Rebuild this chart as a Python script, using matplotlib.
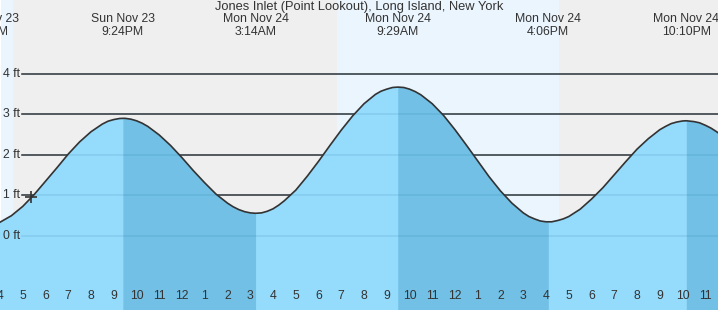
import numpy as np
import matplotlib
matplotlib.use('Agg')
import matplotlib.pyplot as plt
import matplotlib.transforms as mtransforms

plt.rcParams['font.family'] = ['Liberation Sans', 'DejaVu Sans']

# hours relative to midnight Mon Nov 24, heights in ft
hours = [-8.0, -7.5, -7.0, -6.5, -6.0, -5.5, -5.0, -4.5, -4.0, -3.5, -3.25, -3.0, -2.75, -2.6,
         -2.5, -2.25, -2.0, -1.75, -1.5, -1.0, -0.5, 0.0, 0.5, 1.0, 1.5, 2.0, 2.25, 2.5, 2.75,
         3.0, 3.233, 3.5, 3.75, 4.0, 4.25, 4.5, 5.0, 5.5, 6.0, 6.5, 7.0, 7.5, 8.0, 8.5, 8.75,
         9.0, 9.25, 9.483, 9.5, 9.75, 10.0, 10.25, 10.5, 11.0, 11.5, 12.0, 12.5, 13.0, 13.5,
         14.0, 14.5, 15.0, 15.25, 15.5, 15.75, 16.0, 16.1, 16.25, 16.5, 16.75, 17.0, 17.5,
         18.0, 18.5, 19.0, 19.5, 20.0, 20.5, 21.0, 21.25, 21.5, 21.75, 22.0, 22.167, 22.5,
         22.75, 23.0, 23.25, 23.5, 24.0]
heights = [0.34, 0.50, 0.73, 1.02, 1.35, 1.68, 2.02, 2.32, 2.57, 2.76, 2.83, 2.87, 2.896, 2.90,
           2.90, 2.88, 2.84, 2.78, 2.70, 2.49, 2.23, 1.93, 1.61, 1.31, 1.03, 0.81, 0.72, 0.65, 0.60,
           0.57, 0.56, 0.57, 0.61, 0.67, 0.76, 0.87, 1.13, 1.47, 1.84, 2.23, 2.61, 2.96, 3.26, 3.49, 3.57,
           3.62, 3.66, 3.67, 3.67, 3.66, 3.62, 3.56, 3.48, 3.26, 2.97, 2.62, 2.24, 1.85, 1.46,
           1.11, 0.81, 0.57, 0.48, 0.42, 0.37, 0.35, 0.35, 0.35, 0.38, 0.42, 0.48, 0.66,
           0.91, 1.19, 1.51, 1.83, 2.14, 2.40, 2.62, 2.70, 2.77, 2.81, 2.835, 2.84, 2.82,
           2.79, 2.73, 2.66, 2.57, 2.36]

# tide extremes (labels at the top)
event_times = [-8.55, -2.6, 3.233, 9.483, 16.1, 22.167]
event_days = ['Sun Nov 23', 'Sun Nov 23', 'Mon Nov 24', 'Mon Nov 24', 'Mon Nov 24', 'Mon Nov 24']
event_clock = ['3:27PM', '9:24PM', '3:14AM', '9:29AM', '4:06PM', '10:10PM']

# falling tide periods (darker fill)
falling = [(-2.6, 3.233), (9.483, 16.1), (22.167, 24.0)]

# daylight / night
sunset_1 = -7.42
sunrise = 6.8
sunset_2 = 16.55

now_time = -6.62
now_height = 0.97

ft_levels = [0, 1, 2, 3, 4]
tick_hours = list(range(-8, 24))

t = np.array(hours)
h = np.array(heights)

fig = plt.figure(figsize=(7.18, 3.10), dpi=100)
ax = fig.add_axes([0, 0, 1, 1])
x0, x1 = -7.959, 23.56
y0, y1 = -1.824, 5.817
ax.set_xlim(x0, x1)
ax.set_ylim(y0, y1)
for s in ax.spines.values():
    s.set_visible(False)

day_col = '#ebf5fe'
night_col = '#efefef'
ax.axvspan(x0, sunset_1, color=day_col, zorder=0, lw=0)
ax.axvspan(sunset_1, sunrise, color=night_col, zorder=0, lw=0)
ax.axvspan(sunrise, sunset_2, color=day_col, zorder=0, lw=0)
ax.axvspan(sunset_2, x1, color=night_col, zorder=0, lw=0)

grid_start = 22 / 718
for lv in ft_levels:
    ax.axhline(lv, xmin=grid_start, xmax=1, color='#333333', lw=1.1, zorder=1)

ax.fill_between(t, h, y0, color='#95dbfc', lw=0, zorder=2)
for a, b in falling:
    m = (t >= a) & (t <= b)
    ax.fill_between(t[m], h[m], y0, color='#72c0e6', lw=0, zorder=3)

for lv in ft_levels:
    ax.axhline(lv, xmin=grid_start, xmax=1, color='#0a5a8a', alpha=0.13, lw=1.1, zorder=4)

ax.plot(t, h, color='#333333', lw=1.2, zorder=5)
ax.plot([now_time], [now_height], marker='+', ms=9, mew=1.2, color='#333333', zorder=6)

tr = mtransforms.blended_transform_factory(ax.transAxes, ax.transData)
for lv in ft_levels:
    ax.text(3 / 718, lv, f'{lv} ft', transform=tr, ha='left', va='center',
            fontsize=8.8, color='#333333')

tx = mtransforms.blended_transform_factory(ax.transData, ax.transAxes)
for et, d, c in zip(event_times, event_days, event_clock):
    ax.text(et, 1 - 19 / 310, d, transform=tx, ha='center', va='center',
            fontsize=8.8, color='#333333')
    ax.text(et, 1 - 32 / 310, c, transform=tx, ha='center', va='center',
            fontsize=8.8, color='#333333')

ax.text(0.5, 1 - 7 / 310, 'Jones Inlet (Point Lookout), Long Island, New York',
        transform=ax.transAxes, ha='center', va='center', fontsize=9.3, color='#333333')

for hr in tick_hours:
    lab = hr % 12 or 12
    ax.text(hr, 14 / 310, str(lab), transform=tx, ha='center', va='center',
            fontsize=8.8, color='#333333')

ax.set_xticks([hr for hr in tick_hours if hr % 24 != 0], minor=True)
ax.set_xticks([0])
ax.set_yticks([])
ax.tick_params(axis='x', which='minor', direction='in', length=6, width=1.1,
               color='#333333', labelbottom=False)
ax.tick_params(axis='x', which='major', direction='in', length=6, width=2.5,
               color='#333333', labelbottom=False)

fig.savefig('out.png', dpi=100)
